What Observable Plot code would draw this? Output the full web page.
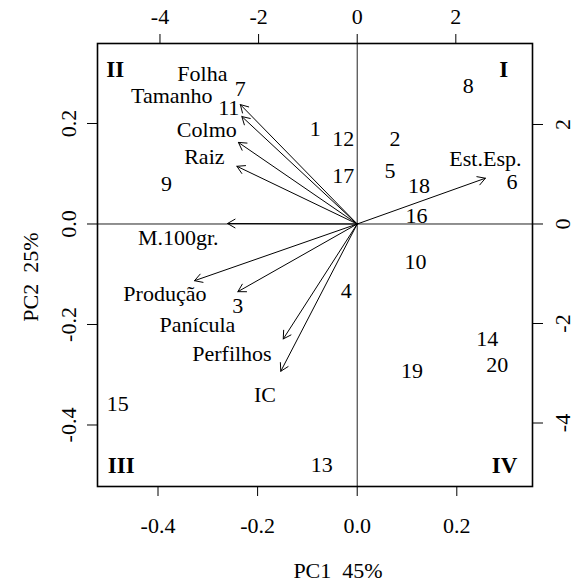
<!DOCTYPE html>
<html>
<head>
<meta charset="utf-8">
<script src="https://cdn.jsdelivr.net/npm/d3@7"></script>
<script src="https://cdn.jsdelivr.net/npm/@observablehq/plot@0.6"></script>
<style>
  html, body { margin: 0; padding: 0; background: #fff; }
</style>
</head>
<body>
<div id="chart"></div>
<script>
// Genotype scores on the first two principal components (bottom/left axes)
const genotypes = ["1","2","3","4","5","6","7","8","9","10","11","12","13","14","15","16","17","18","19","20"];
const scorePC1 = [-0.084, 0.076, -0.240, -0.022, 0.066, 0.311, -0.235, 0.223, -0.383, 0.117,
                  -0.258, -0.028, -0.071, 0.261, -0.481, 0.119, -0.028, 0.124, 0.110, 0.281];
const scorePC2 = [0.190, 0.169, -0.164, -0.134, 0.106, 0.083, 0.268, 0.275, 0.079, -0.076,
                  0.230, 0.169, -0.479, -0.229, -0.358, 0.016, 0.096, 0.075, -0.292, -0.280];

// Trait loadings (top/right axes): arrow ends and label anchors
const traits = ["Folha", "Tamanho", "Colmo", "Raiz", "M.100gr.", "Produção", "Panícula", "Perfilhos", "IC", "Est.Esp."];
const arrowPC1 = [-2.37, -2.34, -2.41, -2.44, -2.63, -3.30, -2.42, -1.50, -1.55, 2.60];
const arrowPC2 = [2.40, 2.16, 1.64, 1.16, 0.01, -1.14, -1.36, -2.31, -2.96, 0.92];
const labelPC1 = [-3.14, -3.76, -3.05, -3.10, -3.63, -3.90, -3.24, -2.54, -1.87, 2.60];
const labelPC2 = [3.01, 2.58, 1.89, 1.34, -0.28, -1.40, -2.02, -2.61, -3.43, 1.30];

// Quadrant numerals
const quadrants = ["I", "II", "III", "IV"];
const quadPC1 = [0.294, -0.486, -0.474, 0.296];
const quadPC2 = [0.308, 0.308, -0.481, -0.481];

// Axis ticks and titles
const scoreTicks = [-0.4, -0.2, 0.0, 0.2];
const loadingTicks = [-4, -2, 0, 2];
const xTitle = "PC1  45%";
const yTitle = "PC2  25%";

// Loadings are drawn on a scale 10.1 times that of the scores
const ratio = 10.1;

const obs = genotypes.map((id, i) => ({id, pc1: scorePC1[i], pc2: scorePC2[i]}));
const vars = traits.map((name, i) => ({
  name,
  ax: arrowPC1[i] / ratio, ay: arrowPC2[i] / ratio,
  lx: labelPC1[i] / ratio, ly: labelPC2[i] / ratio
}));
const quads = quadrants.map((q, i) => ({q, x: quadPC1[i], y: quadPC2[i]}));

const chart = Plot.plot({
  width: 576,
  height: 583,
  marginLeft: 97,
  marginRight: 44,
  marginTop: 43,
  marginBottom: 97,
  x: {domain: [-0.5215, 0.352]},
  y: {domain: [-0.5224, 0.3592]},
  style: {fontFamily: "'Liberation Serif', 'Times New Roman', serif", fontSize: "22px", color: "black", background: "white"},
  marks: [
    Plot.ruleY([0], {stroke: "#222", strokeWidth: 1}),
    Plot.ruleX([0], {stroke: "#222", strokeWidth: 1}),
    Plot.axisX(scoreTicks, {anchor: "bottom", tickSize: 10, tickPadding: 29, lineAnchor: "middle",
      tickFormat: d => d.toFixed(1), label: null}),
    Plot.axisX(loadingTicks.map(t => t / ratio), {anchor: "top", tickSize: 10, tickPadding: 17, lineAnchor: "middle",
      tickFormat: d => String(Math.round(d * ratio)), label: null}),
    Plot.axisY(scoreTicks, {anchor: "left", tickSize: 10, tickPadding: 19, tickRotate: -90, lineAnchor: "middle",
      textAnchor: "middle", tickFormat: d => d.toFixed(1), label: null}),
    Plot.axisY(loadingTicks.map(t => t / ratio), {anchor: "right", tickSize: 10, tickPadding: 20, tickRotate: -90,
      lineAnchor: "middle", textAnchor: "middle", tickFormat: d => String(Math.round(d * ratio)), label: null}),
    Plot.frame({stroke: "black", strokeWidth: 1.6}),
    Plot.arrow(vars, {x1: () => 0, y1: () => 0, x2: "ax", y2: "ay", stroke: "black", strokeWidth: 1,
      headLength: 13, headAngle: 60}),
    Plot.text(vars, {x: "lx", y: "ly", text: "name"}),
    Plot.text(obs, {x: "pc1", y: "pc2", text: "id"}),
    Plot.text(quads, {x: "x", y: "y", text: "q", fontWeight: "bold", fontSize: 23}),
    Plot.text([xTitle], {frameAnchor: "bottom", lineAnchor: "middle", textAnchor: "middle", dx: 23, dy: 84, text: d => d}),
    Plot.text([yTitle], {frameAnchor: "left", lineAnchor: "middle", textAnchor: "middle", dx: -67, dy: 12, rotate: -90, text: d => d})
  ]
});

document.getElementById("chart").append(chart);
</script>
</body>
</html>
